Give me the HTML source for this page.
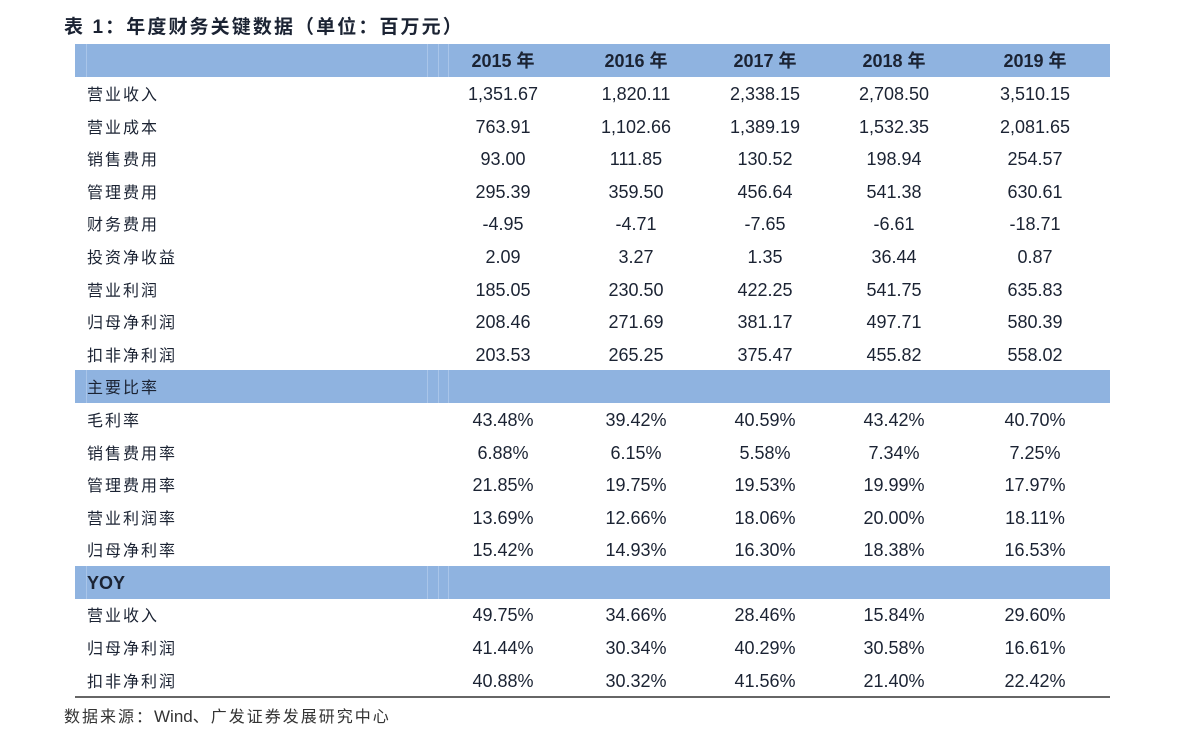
<!DOCTYPE html>
<html><head><meta charset="utf-8"><style>
body{margin:0;width:1191px;height:743px;background:#fff;position:relative;overflow:hidden;font-family:"Liberation Sans","Noto Sans CJK SC",sans-serif;color:#1b2333}
.t{position:absolute;white-space:nowrap;line-height:20px}
.band{position:absolute;left:75px;width:1035px;height:33px;background:#8fb3e0}
.c{position:absolute;width:160px;text-align:center;font-size:18px;line-height:20px}
.l{position:absolute;left:87px;font-size:16px;line-height:20px;letter-spacing:2px;margin-top:2px}
.h{font-weight:bold}
.vl{position:absolute;top:0;bottom:0;width:1px;background:#a9c5e9}
</style></head><body>
<div class="t" style="left:64px;top:18px;font-size:19px;font-weight:bold;letter-spacing:2.1px">表 1：年度财务关键数据（单位：百万元）</div>
<div class="band" style="top:44px"><div class="vl" style="left:11px"></div><div class="vl" style="left:352px"></div><div class="vl" style="left:363px"></div><div class="vl" style="left:373px"></div></div>
<div class="band" style="top:370px"><div class="vl" style="left:11px"></div><div class="vl" style="left:352px"></div><div class="vl" style="left:363px"></div><div class="vl" style="left:373px"></div></div>
<div class="band" style="top:566px"><div class="vl" style="left:11px"></div><div class="vl" style="left:352px"></div><div class="vl" style="left:363px"></div><div class="vl" style="left:373px"></div></div>
<div style="position:absolute;left:75px;width:1035px;top:696px;height:2px;background:#666"></div>
<div id="rows"></div>
<div class="t" style="left:64px;top:707px;font-size:16px;color:#333;letter-spacing:2px">数据来源：<span style="letter-spacing:0;font-size:17px">Wind</span>、广发证券发展研究中心</div>
<script>
var cx=[503,636,765,894,1035];
var rows=[
[51,'',['2015 年','2016 年','2017 年','2018 年','2019 年'],1],
[84,'营业收入',['1,351.67','1,820.11','2,338.15','2,708.50','3,510.15']],
[117,'营业成本',['763.91','1,102.66','1,389.19','1,532.35','2,081.65']],
[149,'销售费用',['93.00','111.85','130.52','198.94','254.57']],
[182,'管理费用',['295.39','359.50','456.64','541.38','630.61']],
[214,'财务费用',['-4.95','-4.71','-7.65','-6.61','-18.71']],
[247,'投资净收益',['2.09','3.27','1.35','36.44','0.87']],
[280,'营业利润',['185.05','230.50','422.25','541.75','635.83']],
[312,'归母净利润',['208.46','271.69','381.17','497.71','580.39']],
[345,'扣非净利润',['203.53','265.25','375.47','455.82','558.02']],
[377,'主要比率',[]],
[410,'毛利率',['43.48%','39.42%','40.59%','43.42%','40.70%']],
[443,'销售费用率',['6.88%','6.15%','5.58%','7.34%','7.25%']],
[475,'管理费用率',['21.85%','19.75%','19.53%','19.99%','17.97%']],
[508,'营业利润率',['13.69%','12.66%','18.06%','20.00%','18.11%']],
[540,'归母净利率',['15.42%','14.93%','16.30%','18.38%','16.53%']],
[573,'YOY',[],1],
[605,'营业收入',['49.75%','34.66%','28.46%','15.84%','29.60%']],
[638,'归母净利润',['41.44%','30.34%','40.29%','30.58%','16.61%']],
[671,'扣非净利润',['40.88%','30.32%','41.56%','21.40%','22.42%']]];
var h='';
rows.forEach(function(r){
 if(r[1]) h+='<div class="l'+(r[3]?' h':'')+'" style="top:'+r[0]+'px;'+(r[3]?'font-size:18px;letter-spacing:0;margin-top:0':'')+'">'+r[1]+'</div>';
 r[2].forEach(function(v,i){h+='<div class="c'+(r[3]?' h':'')+'" style="left:'+(cx[i]-80)+'px;top:'+r[0]+'px">'+v+'</div>';});
});
document.getElementById('rows').innerHTML=h;
</script>
</body></html>
